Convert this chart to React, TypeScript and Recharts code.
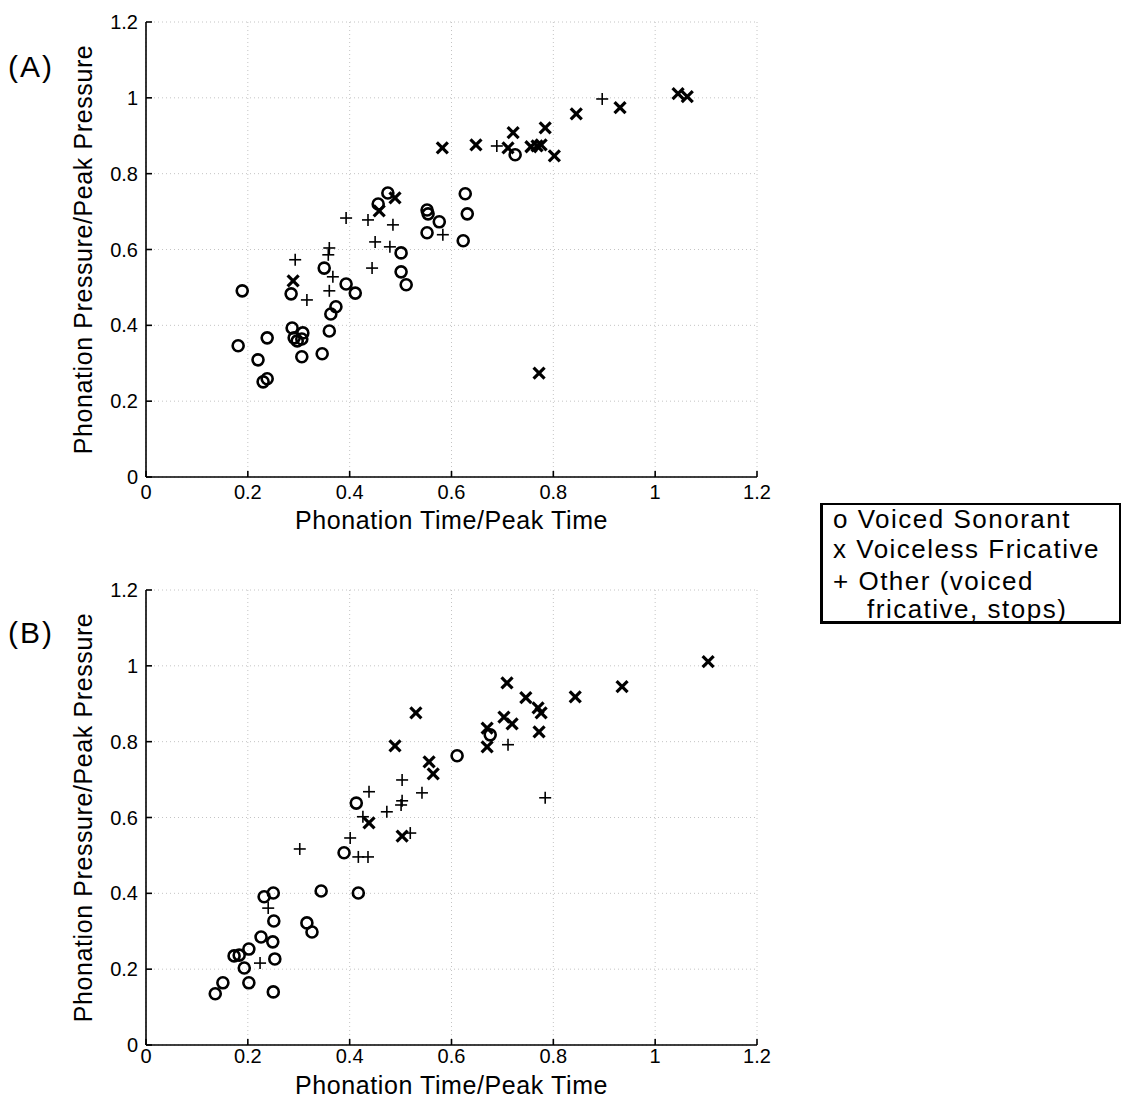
import React from 'react';
import { ScatterChart, Scatter, XAxis, YAxis, CartesianGrid } from 'recharts';

// [time ratio, pressure ratio]
const sonorantA: number[][] = [
  [0.475, 0.749], [0.456, 0.720], [0.552, 0.704], [0.554, 0.694], [0.576, 0.673],
  [0.552, 0.644], [0.501, 0.591], [0.501, 0.541], [0.511, 0.507], [0.350, 0.551],
  [0.725, 0.850], [0.627, 0.747], [0.631, 0.694], [0.623, 0.623], [0.189, 0.491],
  [0.285, 0.483], [0.393, 0.509], [0.411, 0.485], [0.373, 0.449], [0.363, 0.430],
  [0.360, 0.385], [0.287, 0.393], [0.308, 0.380], [0.291, 0.367], [0.297, 0.359],
  [0.306, 0.364], [0.238, 0.367], [0.181, 0.346], [0.220, 0.309], [0.306, 0.317],
  [0.346, 0.325], [0.230, 0.251], [0.238, 0.259],
];
const fricativeA: number[][] = [
  [0.582, 0.868], [0.489, 0.736], [0.458, 0.702], [0.289, 0.517], [0.648, 0.876],
  [0.711, 0.868], [0.721, 0.908], [0.756, 0.871], [0.768, 0.873], [0.776, 0.876],
  [0.784, 0.921], [0.802, 0.847], [0.845, 0.958], [0.931, 0.974], [1.045, 1.011],
  [1.063, 1.003], [0.772, 0.274],
];
const otherA: number[][] = [
  [0.583, 0.639], [0.393, 0.683], [0.436, 0.678], [0.485, 0.665], [0.450, 0.620],
  [0.479, 0.607], [0.444, 0.551], [0.360, 0.604], [0.358, 0.586], [0.293, 0.573],
  [0.367, 0.528], [0.316, 0.467], [0.360, 0.491], [0.689, 0.873], [0.896, 0.997],
];

const sonorantB: number[][] = [
  [0.611, 0.763], [0.676, 0.818], [0.413, 0.638], [0.389, 0.507], [0.250, 0.401],
  [0.232, 0.391], [0.344, 0.406], [0.417, 0.401], [0.251, 0.327], [0.316, 0.322],
  [0.326, 0.298], [0.226, 0.285], [0.249, 0.272], [0.202, 0.253], [0.173, 0.235],
  [0.183, 0.237], [0.253, 0.227], [0.193, 0.203], [0.151, 0.164], [0.202, 0.164],
  [0.136, 0.135], [0.250, 0.140],
];
const fricativeB: number[][] = [
  [0.530, 0.876], [0.489, 0.789], [0.556, 0.747], [0.564, 0.715], [0.438, 0.586],
  [0.503, 0.551], [0.709, 0.955], [0.746, 0.916], [0.770, 0.889], [0.776, 0.876],
  [0.703, 0.865], [0.719, 0.847], [0.670, 0.836], [0.670, 0.786], [0.772, 0.826],
  [0.843, 0.918], [0.935, 0.945], [1.104, 1.011],
];
const otherB: number[][] = [
  [0.503, 0.699], [0.438, 0.668], [0.542, 0.665], [0.503, 0.644], [0.501, 0.633],
  [0.473, 0.615], [0.426, 0.602], [0.519, 0.559], [0.401, 0.546], [0.302, 0.517],
  [0.417, 0.496], [0.436, 0.496], [0.711, 0.792], [0.784, 0.652], [0.240, 0.361],
  [0.224, 0.216],
];

const ticks = [0, 0.2, 0.4, 0.6, 0.8, 1, 1.2];
const legendLines = ['o Voiced Sonorant', 'x Voiceless Fricative', '+ Other (voiced', 'fricative, stops)'];
const legendHeights = [28, 32, 32, 24];

const toPts = (arr: number[][]) => arr.map(([x, y]) => ({ x, y }));
const font = '"Liberation Sans", Arial, sans-serif';

const Circle = (p: any) => (
  <circle cx={p.cx} cy={p.cy} r={5.5} fill="none" stroke="#000" strokeWidth={2.6} />
);
const Cross = (p: any) => {
  const d = 5.5;
  return (
    <g stroke="#000" strokeWidth={3.2}>
      <line x1={p.cx - d} y1={p.cy - d} x2={p.cx + d} y2={p.cy + d} />
      <line x1={p.cx - d} y1={p.cy + d} x2={p.cx + d} y2={p.cy - d} />
    </g>
  );
};
const Plus = (p: any) => {
  const d = 6;
  return (
    <g stroke="#000" strokeWidth={1.6}>
      <line x1={p.cx - d} y1={p.cy} x2={p.cx + d} y2={p.cy} />
      <line x1={p.cx} y1={p.cy - d} x2={p.cx} y2={p.cy + d} />
    </g>
  );
};

const tickStyle = { fill: '#000', fontSize: 20, fontFamily: font };
const labelStyle = { fill: '#000', fontSize: 25, fontFamily: font, letterSpacing: 0.6 };

function Panel({ sonorant, fricative, other, xLabelBand, xTickMargin }: {
  sonorant: number[][]; fricative: number[][]; other: number[][]; xLabelBand: number; xTickMargin: number;
}) {
  return (
    <ScatterChart width={800} height={22 + 455 + xLabelBand + 2} margin={{ top: 22, right: 43, left: 20, bottom: 2 }}>
      <CartesianGrid stroke="#c4c4c4" strokeDasharray="1 3" />
      <XAxis
        type="number"
        dataKey="x"
        domain={[0, 1.2]}
        ticks={ticks}
        height={xLabelBand}
        tickSize={-6}
        tickMargin={xTickMargin}
        stroke="#000"
        strokeWidth={1.6}
        tick={tickStyle}
        label={{ value: 'Phonation Time/Peak Time', position: 'center', style: labelStyle }}
      />
      <YAxis
        type="number"
        dataKey="y"
        domain={[0, 1.2]}
        ticks={ticks}
        width={126}
        tickSize={-6}
        tickMargin={14}
        stroke="#000"
        strokeWidth={1.6}
        tick={tickStyle}
        label={{ value: 'Phonation Pressure/Peak Pressure', angle: -90, position: 'center', style: labelStyle }}
      />
      <Scatter data={toPts(sonorant)} shape={Circle} isAnimationActive={false} />
      <Scatter data={toPts(fricative)} shape={Cross} isAnimationActive={false} />
      <Scatter data={toPts(other)} shape={Plus} isAnimationActive={false} />
    </ScatterChart>
  );
}

export default function App() {
  return (
    <div style={{ position: 'absolute', left: 0, top: 0, width: 1121, height: 1099, background: '#fff', fontFamily: font, overflow: 'hidden' }}>
      <div style={{ position: 'absolute', left: 0, top: 0 }}>
        <Panel sonorant={sonorantA} fricative={fricativeA} other={otherA} xLabelBand={86} xTickMargin={14} />
      </div>
      <div style={{ position: 'absolute', left: 0, top: 568 }}>
        <Panel sonorant={sonorantB} fricative={fricativeB} other={otherB} xLabelBand={80} xTickMargin={10} />
      </div>
      <div style={{ position: 'absolute', left: 8, top: 50, fontSize: 30, letterSpacing: 2 }}>(A)</div>
      <div style={{ position: 'absolute', left: 8, top: 616, fontSize: 30, letterSpacing: 2 }}>(B)</div>
      <div
        style={{
          position: 'absolute',
          left: 820,
          top: 503,
          width: 296,
          height: 116,
          border: '2px solid #000',
          borderLeftWidth: 3,
          borderBottomWidth: 3,
          fontSize: 26,
          letterSpacing: 1.5,
        }}
      >
        {legendLines.map((t, i) => (
          <div
            key={t}
            style={{
              paddingLeft: i === 3 ? 44 : 10,
              whiteSpace: 'nowrap',
              height: legendHeights[i],
              lineHeight: `${legendHeights[i]}px`,
            }}
          >
            {t}
          </div>
        ))}
      </div>
    </div>
  );
}
